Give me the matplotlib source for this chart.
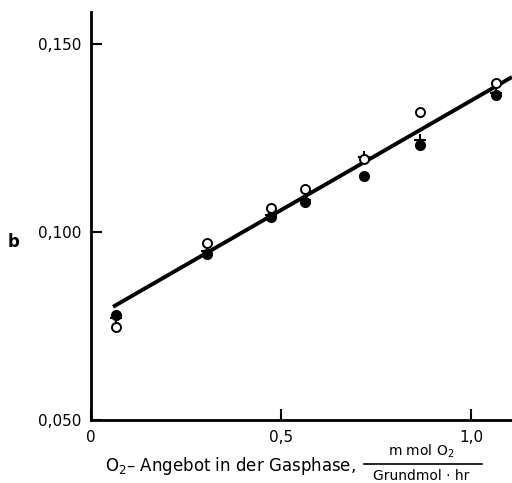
import numpy as np
import matplotlib.pyplot as plt
from matplotlib.lines import Line2D

# O2 supply (m mol O2 / Grundmol hr)
x_open = [0.066, 0.305, 0.474, 0.563, 0.718, 0.866, 1.066]
b_open = [0.0747, 0.0971, 0.1064, 0.1114, 0.1194, 0.1319, 0.1396]

x_filled = [0.066, 0.305, 0.474, 0.563, 0.718, 0.866, 1.066]
b_filled = [0.0779, 0.0941, 0.1040, 0.1080, 0.1149, 0.1231, 0.1364]

x_plus = [0.066, 0.305, 0.474, 0.563, 0.718, 0.866, 1.066]
b_plus = [0.0770, 0.0950, 0.1045, 0.1085, 0.1200, 0.1245, 0.1370]

# regression line
line_x = [0.058, 1.108]
line_b = [0.0801, 0.1412]

xticks = [0, 0.5, 1.0]
xtick_labels = ['0', '0,5', '1,0']
yticks = [0.050, 0.100, 0.150]
ytick_labels = ['0,050', '0,100', '0,150']

plt.rcParams['font.family'] = ['DejaVu Sans']

fig = plt.figure(figsize=(5.12, 4.83), dpi=100)
ax = fig.add_axes([91/512, 1 - 420/483, 1 - 91/512, (420 - 12)/483])

ax.plot(line_x, line_b, color='black', lw=2.8, solid_capstyle='butt', zorder=2)
ax.plot(x_plus, b_plus, ls='none', marker='+', ms=8, mew=1.5, color='black', zorder=3)
ax.plot(x_filled, b_filled, ls='none', marker='o', ms=7, color='black', zorder=4)
ax.plot(x_open, b_open, ls='none', marker='o', ms=6.5, mfc='white', mec='black', mew=1.4, zorder=5)

ax.set_xlim(0, 1.108)
ax.set_ylim(0.050, 0.1585)
ax.set_xticks(xticks)
ax.set_xticklabels(xtick_labels)
ax.set_yticks(yticks)
ax.set_yticklabels(ytick_labels)
ax.tick_params(direction='in', length=8, width=1.5, labelsize=11, pad=7)

for side in ['top', 'right']:
    ax.spines[side].set_visible(False)
for side in ['left', 'bottom']:
    ax.spines[side].set_linewidth(2)

fig.text(14/512, 1 - 242/483, 'b', fontsize=12, fontweight='bold', ha='center', va='center')
fig.text(230/512, 1 - 466/483, r'O$_2$– Angebot in der Gasphase,', fontsize=12, ha='center', va='center')
fig.text(421/512, 1 - 451/483, r'm mol O$_2$', fontsize=10, ha='center', va='center')
fig.text(421/512, 1 - 476/483, 'Grundmol · hr', fontsize=10, ha='center', va='center')
fig.add_artist(Line2D([364/512, 482/512], [1 - 464/483, 1 - 464/483], color='black', lw=1.2))

fig.savefig('out.png', dpi=100)
